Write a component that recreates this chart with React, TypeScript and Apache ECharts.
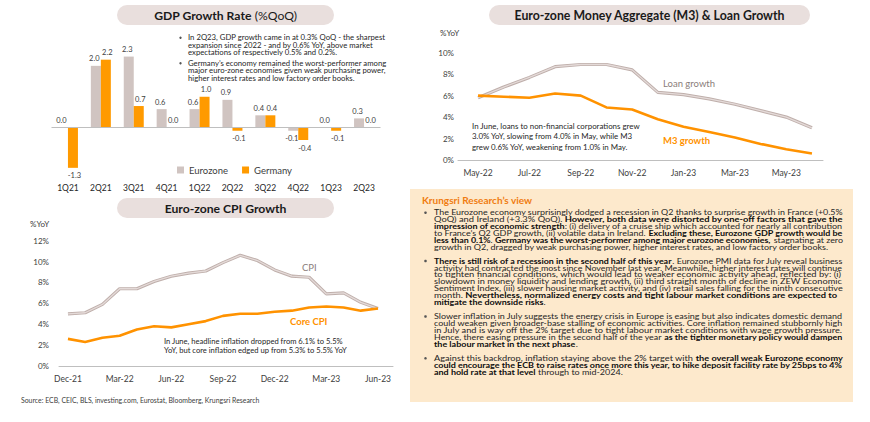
import React, { useEffect, useRef } from "react";
import * as echarts from "echarts";

const FONT = "Lato";

// ---------- GDP ----------
const gdpQuarters = ["1Q21", "2Q21", "3Q21", "4Q21", "1Q22", "2Q22", "3Q22", "4Q22", "1Q23", "2Q23"];
const gdpEurozone = [0.0, 2.0, 2.3, 0.6, 0.6, 0.9, 0.4, -0.1, 0.0, 0.3];
const gdpGermany = [-1.3, 2.2, 0.7, 0.0, 1.0, -0.1, 0.4, -0.4, -0.1, 0.0];
const gdpNotes = [
  [
    "In 2Q23, GDP growth came in at 0.3% QoQ - the sharpest",
    "expansion since 2022 - and by 0.6% YoY, above market",
    "expectations of respectively 0.5% and 0.2%.",
  ],
  [
    "Germany’s economy remained the worst-performer among",
    "major euro-zone economies given weak purchasing power,",
    "higher interest rates and low factory order books.",
  ],
];

// ---------- M3 & Loans ----------
const m3Months = ["May-22", "Jun-22", "Jul-22", "Aug-22", "Sep-22", "Oct-22", "Nov-22", "Dec-22", "Jan-23", "Feb-23", "Mar-23", "Apr-23", "May-23", "Jun-23"];
const loanGrowth = [5.8, 6.8, 7.7, 8.7, 8.9, 8.9, 8.4, 6.3, 6.1, 5.7, 5.2, 4.6, 4.0, 3.0];
const m3Growth = [6.0, 5.9, 5.8, 6.2, 6.0, 4.9, 4.7, 3.8, 3.1, 2.6, 2.1, 1.5, 1.0, 0.6];
const m3TickIdx = [0, 2, 4, 6, 8, 10, 12];
const m3Note = [
  "In June, loans to non-financial corporations grew",
  "3.0% YoY, slowing from 4.0% in May, while M3",
  "grew 0.6% YoY, weakening from 1.0% in May.",
];

// ---------- CPI ----------
const cpiMonths = ["Dec-21", "Jan-22", "Feb-22", "Mar-22", "Apr-22", "May-22", "Jun-22", "Jul-22", "Aug-22", "Sep-22", "Oct-22", "Nov-22", "Dec-22", "Jan-23", "Feb-23", "Mar-23", "Apr-23", "May-23", "Jun-23"];
const cpiHeadline = [5.0, 5.1, 5.9, 7.4, 7.4, 8.1, 8.6, 8.9, 9.1, 9.9, 10.6, 10.1, 9.2, 8.6, 8.5, 6.9, 7.0, 6.1, 5.5];
const cpiCore = [2.6, 2.3, 2.7, 2.9, 3.5, 3.8, 3.7, 4.0, 4.3, 4.8, 5.0, 5.0, 5.2, 5.3, 5.6, 5.7, 5.6, 5.3, 5.5];
const cpiTickIdx = [0, 3, 6, 9, 12, 15, 18];
const cpiNote = [
  "In June, headline inflation dropped from 6.1% to 5.5%",
  "YoY, but core inflation edged up from 5.3% to 5.5% YoY",
];

const sourceText = "Source: ECB, CEIC, BLS, investing.com, Eurostat, Bloomberg, Krungsri Research";

// ---------- Research view ----------
const viewTitle = "Krungsri Research’s view";
const viewParagraphs = [
  [
    "The Eurozone economy surprisingly dodged a recession in Q2 thanks to surprise growth in France (+0.5%",
    "QoQ) and Ireland (+3.3% QoQ). {b|However, both data were distorted by one-off factors that gave the}",
    "{b|impression of economic strength}: (i) delivery of a cruise ship which accounted for nearly all contribution",
    "to France’s Q2 GDP growth, (ii) volatile data in Ireland. {b|Excluding these, Eurozone GDP growth would be}",
    "{b|less than 0.1%}. {b|Germany was the worst-performer among major eurozone economies,} stagnating at zero",
    "growth in Q2, dragged by weak purchasing power, higher interest rates, and low factory order books.",
  ],
  [
    "{b|There is still risk of a recession in the second half of this year}. Eurozone PMI data for July reveal business",
    "activity had contracted the most since November last year. Meanwhile, higher interest rates will continue",
    "to tighten financial conditions, which would lead to weaker economic activity ahead, reflected by: (i)",
    "slowdown in money liquidity and lending growth, (ii) third straight month of decline in ZEW Economic",
    "Sentiment Index, (iii) slower housing market activity, and (iv) retail sales falling for the ninth consecutive",
    "month. {b|Nevertheless, normalized energy costs and tight labour market conditions are expected to}",
    "{b|mitigate the downside risks}.",
  ],
  [
    "Slower inflation in July suggests the energy crisis in Europe is easing but also indicates domestic demand",
    "could weaken given broader-base stalling of economic activities. Core inflation remained stubbornly high",
    "in July and is way off the 2% target due to tight labour market conditions with wage growth pressure.",
    "Hence, there easing pressure in the second half of the year {b|as the tighter monetary policy would dampen}",
    "{b|the labour market in the next phase}.",
  ],
  [
    "Against this backdrop, inflation staying above the 2% target with {b|the overall weak Eurozone economy}",
    "{b|could encourage the ECB to raise rates once more this year, to hike deposit facility rate by 25bps to 4%}",
    "{b|and hold rate at that level} through to mid-2024.",
  ],
];

const ORANGE = "#ff9a00";
const ORANGE_LINE = "#ff9200";
const GREY_BAR = "#d0c4c1";
const PILL = "#e9dfdd";
const TXT = "#262626";

let measureCtx: CanvasRenderingContext2D | null = null;
function measureRich(line: string, size: number): number {
  if (!measureCtx) measureCtx = document.createElement("canvas").getContext("2d");
  const ctx = measureCtx!;
  let w = 0;
  const re = /\{b\|([^}]*)\}/g;
  let last = 0;
  let m: RegExpExecArray | null;
  while ((m = re.exec(line))) {
    if (m.index > last) {
      ctx.font = `${size}px ${FONT}`;
      w += ctx.measureText(line.slice(last, m.index)).width;
    }
    ctx.font = `bold ${size}px ${FONT}`;
    w += ctx.measureText(m[1]).width;
    last = re.lastIndex;
  }
  if (last < line.length) {
    ctx.font = `${size}px ${FONT}`;
    w += ctx.measureText(line.slice(last)).width;
  }
  return w;
}

function txt(x: number, y: number, text: string, o: any = {}) {
  const size = o.size ?? 7.3;
  const color = o.color ?? TXT;
  const el: any = {
    type: "text",
    x,
    y,
    silent: true,
    z: 10,
    style: {
      text,
      fontSize: size,
      fontFamily: FONT,
      fontWeight: o.weight ?? "normal",
      fill: color,
      align: o.align ?? "left",
      textAlign: o.align ?? "left",
      verticalAlign: "middle",
      textVerticalAlign: "middle",
      rich: {
        b: { fontSize: size, fontFamily: FONT, fontWeight: "bold", fill: o.boldColor ?? "#111" },
        n: { fontSize: size, fontFamily: FONT, fontWeight: "normal", fill: color },
      },
    },
  };
  if (o.scaleX) el.scaleX = o.scaleX;
  return el;
}

function pill(x: number, y: number, w: number, h: number) {
  return { type: "rect", silent: true, z: 1, shape: { x, y, width: w, height: h, r: h / 2 }, style: { fill: PILL } };
}

function buildGraphic() {
  const g: any[] = [];
  // GDP
  g.push(pill(117, 5, 217, 20));
  g.push(txt(225.5, 15.5, "{b|GDP Growth Rate} {n|(%QoQ)}", { size: 12.2, align: "center", color: "#1a1a1a", boldColor: "#1a1a1a" }));
  const gdpNoteTop = [37.7, 63.3];
  const gdpSize = 7.2;
  const gdpScale = 197 / measureRich(gdpNotes[0][0], gdpSize);
  gdpNotes.forEach((para, pi) => {
    g.push({ type: "circle", silent: true, z: 10, shape: { cx: 180.5, cy: gdpNoteTop[pi], r: 1.2 }, style: { fill: "#555" } });
    para.forEach((line, li) =>
      g.push(txt(188, gdpNoteTop[pi] + li * 7.6, line, { size: gdpSize, scaleX: Math.min(1.25, gdpScale) }))
    );
  });

  // M3
  g.push(pill(489, 5, 321, 20));
  g.push(txt(649.5, 15.5, "Euro-zone Money Aggregate (M3) & Loan Growth", { size: 12.3, align: "center", weight: "bold", color: "#1a1a1a" }));
  g.push(txt(440, 33, "%YoY", { size: 8, color: "#404040" }));
  g.push(txt(663, 83.5, "Loan growth", { size: 9.5, color: "#8a7d7a" }));
  g.push(txt(663, 140.5, "M3 growth", { size: 9.5, color: ORANGE_LINE, weight: "bold" }));
  m3Note.forEach((line, i) => g.push(txt(472, 126 + i * 10.4, line, { size: 7.9 })));

  // CPI
  g.push(pill(117, 198, 217, 20));
  g.push(txt(225.5, 208.5, "Euro-zone CPI Growth", { size: 12.2, align: "center", weight: "bold", color: "#1a1a1a" }));
  g.push(txt(30, 223.5, "%YoY", { size: 8, color: "#404040" }));
  g.push(txt(302, 267, "CPI", { size: 9.5, color: "#8a7d7a" }));
  g.push(txt(290, 321, "Core CPI", { size: 9.5, color: ORANGE_LINE, weight: "bold" }));
  cpiNote.forEach((line, i) => g.push(txt(164, 341 + i * 9.3, line, { size: 7.6 })));

  g.push(txt(21, 400, sourceText, { size: 6.9, color: "#404040" }));

  // Research view panel
  g.push({ type: "rect", silent: true, z: 1, shape: { x: 410, y: 189, width: 443, height: 213 }, style: { fill: "#fde9cc" } });
  g.push(txt(422, 200, viewTitle, { size: 10, weight: "bold", color: "#f07c10" }));
  const size = 7.2;
  const target = 409;
  const paraTop = [212.7, 261, 316.5, 358.3];
  const step = 6.85;
  const scales: number[] = [];
  viewParagraphs.forEach((para) =>
    para.forEach((line, li) => {
      if (li < para.length - 1) scales.push(target / measureRich(line, size));
    })
  );
  const meanScale = Math.min(1.25, scales.reduce((a, b) => a + b, 0) / scales.length);
  viewParagraphs.forEach((para, pi) => {
    g.push({ type: "circle", silent: true, z: 10, shape: { cx: 425.5, cy: paraTop[pi], r: 1.3 }, style: { fill: "#555" } });
    para.forEach((line, li) => {
      const last = li === para.length - 1;
      const s = last ? meanScale : Math.min(1.3, target / measureRich(line, size));
      g.push(txt(434, paraTop[pi] + li * step, line, { size, scaleX: s, color: "#262626", boldColor: "#0d0d0d" }));
    });
  });
  return g;
}

function buildOption(): any {
  const barLabel = (v: number) => ({
    value: v,
    label: { position: v < 0 ? "bottom" : "top", distance: v < 0 ? 4 : 3 },
  });
  const labelCommon = (dx: number) => ({
    show: true,
    fontSize: 7.5,
    color: "#404040",
    fontFamily: FONT,
    offset: [dx, 0],
    formatter: (p: any) => Number(p.value).toFixed(1),
  });
  return {
    animation: false,
    backgroundColor: "#ffffff",
    textStyle: { fontFamily: FONT },
    legend: {
      data: ["Eurozone", "Germany"],
      left: 172,
      top: 160,
      itemWidth: 7,
      itemHeight: 7,
      itemGap: 14,
      icon: "rect",
      selectedMode: false,
      textStyle: { fontSize: 9.5, color: "#404040", fontFamily: FONT },
    },
    grid: [
      { left: 51.5, top: 50.4, width: 329, height: 129.8 },
      { left: 458, top: 52.7, width: 365, height: 107.3 },
      { left: 59, top: 240.7, width: 334, height: 125.3 },
    ],
    xAxis: [
      {
        type: "category",
        gridIndex: 0,
        data: gdpQuarters,
        axisLine: { show: false },
        axisTick: { show: false },
        axisLabel: { fontSize: 8.5, color: TXT, margin: 3, interval: 0, fontFamily: FONT },
      },
      {
        type: "value",
        gridIndex: 1,
        min: -0.78,
        max: 13.43,
        axisLine: { show: true, onZero: false, lineStyle: { color: "#bfbfbf", width: 1 } },
        axisTick: { show: false },
        splitLine: { show: false },
        axisLabel: {
          customValues: m3TickIdx,
          formatter: (v: number) => m3Months[Math.round(v)] ?? "",
          fontSize: 8.5,
          color: "#404040",
          margin: 8,
          fontFamily: FONT,
        },
      },
      {
        type: "value",
        gridIndex: 2,
        min: -0.52,
        max: 18.87,
        axisLine: { show: true, onZero: false, lineStyle: { color: "#bfbfbf", width: 1 } },
        axisTick: { show: false },
        splitLine: { show: false },
        axisLabel: {
          customValues: cpiTickIdx,
          formatter: (v: number) => cpiMonths[Math.round(v)] ?? "",
          fontSize: 8.5,
          color: "#404040",
          margin: 8,
          fontFamily: FONT,
        },
      },
    ],
    yAxis: [
      { type: "value", gridIndex: 0, min: -1.7, max: 2.5, show: false },
      {
        type: "value",
        gridIndex: 1,
        min: 0,
        max: 10,
        interval: 2,
        axisLine: { show: false },
        axisTick: { show: false },
        splitLine: { show: false },
        axisLabel: { formatter: "{value}%", fontSize: 8, color: "#404040", margin: 4, fontFamily: FONT },
      },
      {
        type: "value",
        gridIndex: 2,
        min: 0,
        max: 12,
        interval: 2,
        axisLine: { show: false },
        axisTick: { show: false },
        splitLine: { show: false },
        axisLabel: { formatter: "{value}%", fontSize: 8, color: "#404040", margin: 10, fontFamily: FONT },
      },
    ],
    series: [
      {
        name: "Eurozone",
        type: "bar",
        xAxisIndex: 0,
        yAxisIndex: 0,
        barWidth: 10,
        barGap: "0%",
        itemStyle: { color: GREY_BAR },
        label: labelCommon(-1.5),
        data: gdpEurozone.map(barLabel),
        markLine: {
          silent: true,
          symbol: ["none", "none"],
          label: { show: false },
          lineStyle: { color: "#bfbfbf", width: 1, type: "solid" },
          data: [{ yAxis: 0 }],
        },
      },
      {
        name: "Germany",
        type: "bar",
        xAxisIndex: 0,
        yAxisIndex: 0,
        barWidth: 10,
        barGap: "0%",
        itemStyle: { color: ORANGE },
        label: labelCommon(1.5),
        data: gdpGermany.map(barLabel),
      },
      {
        name: "Loan growth",
        type: "line",
        xAxisIndex: 1,
        yAxisIndex: 1,
        symbol: "none",
        silent: true,
        lineStyle: { color: "#bfafab", width: 3.2 },
        data: loanGrowth.map((v, i) => [i, v]),
      },
      {
        name: "Loan growth (inner)",
        type: "line",
        xAxisIndex: 1,
        yAxisIndex: 1,
        symbol: "none",
        silent: true,
        lineStyle: { color: "#e4dad8", width: 1.3 },
        data: loanGrowth.map((v, i) => [i, v]),
      },
      {
        name: "M3 growth",
        type: "line",
        xAxisIndex: 1,
        yAxisIndex: 1,
        symbol: "none",
        silent: true,
        lineStyle: { color: ORANGE_LINE, width: 2.6 },
        data: m3Growth.map((v, i) => [i, v]),
      },
      {
        name: "CPI",
        type: "line",
        xAxisIndex: 2,
        yAxisIndex: 2,
        symbol: "none",
        silent: true,
        lineStyle: { color: "#bfafab", width: 3.2 },
        data: cpiHeadline.map((v, i) => [i, v]),
      },
      {
        name: "CPI (inner)",
        type: "line",
        xAxisIndex: 2,
        yAxisIndex: 2,
        symbol: "none",
        silent: true,
        lineStyle: { color: "#e4dad8", width: 1.3 },
        data: cpiHeadline.map((v, i) => [i, v]),
      },
      {
        name: "Core CPI",
        type: "line",
        xAxisIndex: 2,
        yAxisIndex: 2,
        symbol: "none",
        silent: true,
        lineStyle: { color: ORANGE_LINE, width: 2.6 },
        data: cpiCore.map((v, i) => [i, v]),
      },
    ],
    graphic: buildGraphic(),
  };
}

export default function App() {
  const ref = useRef<HTMLDivElement>(null);
  useEffect(() => {
    document.body.style.margin = "0";
    const chart = echarts.init(ref.current!, null, { renderer: "svg" });
    chart.setOption(buildOption());
    return () => chart.dispose();
  }, []);
  return <div ref={ref} style={{ width: 870, height: 422, background: "#fff" }} />;
}
